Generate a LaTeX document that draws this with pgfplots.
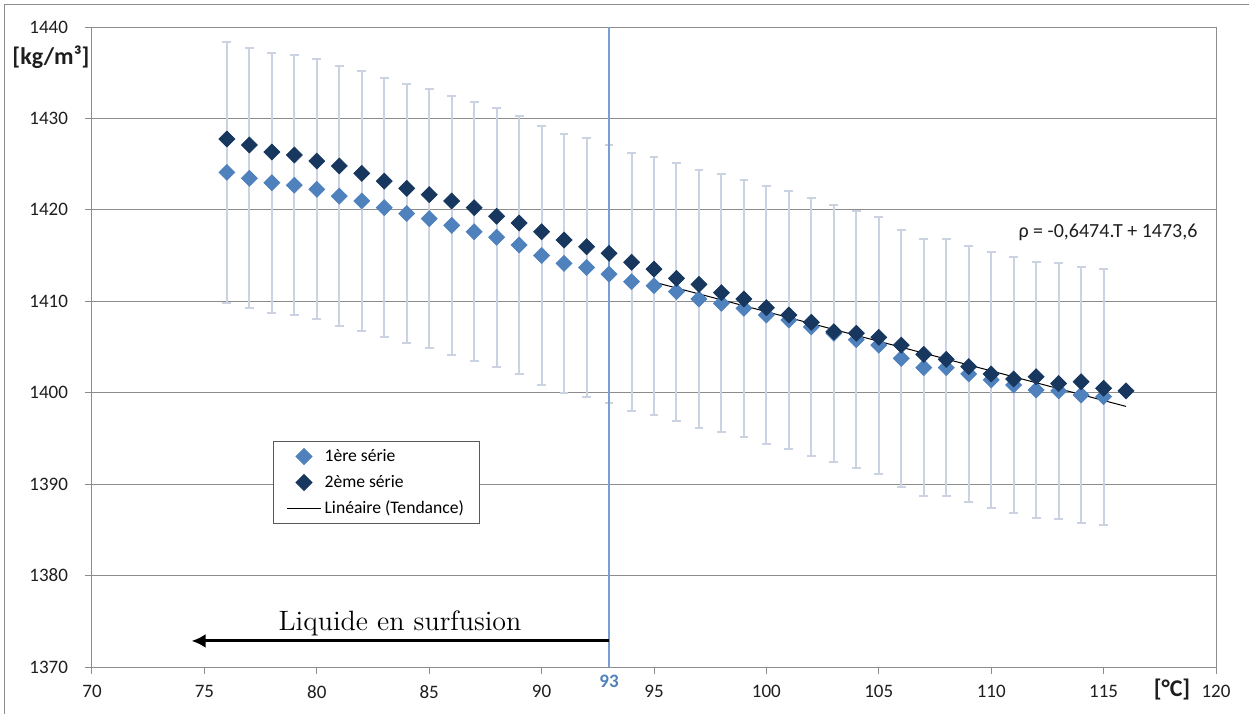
\documentclass[border=0pt]{standalone}
\usepackage{pgfplots}
\pgfplotsset{compat=1.18}
\usepackage{pgfplotstable}
\usepackage{fontspec}
\usetikzlibrary{arrows.meta}
\newfontfamily\calibri{Carlito}
\definecolor{gridgray}{RGB}{140,140,140}
\definecolor{legborder}{RGB}{89,89,89}
\definecolor{lightb}{RGB}{79,129,189}
\definecolor{darkb}{RGB}{23,55,94}
\definecolor{errc}{RGB}{203,210,226}
\definecolor{vline}{RGB}{120,158,210}
\definecolor{lab93}{RGB}{79,129,189}
\definecolor{ticktxt}{RGB}{30,30,30}

\pgfplotstableread{
x y e
76 1424.10 14.24
77 1423.45 14.23
78 1422.97 14.23
79 1422.70 14.23
80 1422.25 14.22
81 1421.50 14.22
82 1420.97 14.21
83 1420.24 14.20
84 1419.60 14.20
85 1419.04 14.19
86 1418.30 14.18
87 1417.60 14.18
88 1417.00 14.17
89 1416.16 14.16
90 1415.00 14.15
91 1414.15 14.14
92 1413.70 14.14
93 1412.97 14.13
94 1412.14 14.12
95 1411.70 14.12
96 1411.05 14.11
97 1410.25 14.10
98 1409.78 14.10
99 1409.23 14.09
100 1408.50 14.09
101 1407.95 14.08
102 1407.20 14.07
103 1406.50 14.07
104 1405.80 14.06
105 1405.20 14.05
106 1403.76 14.04
107 1402.74 14.03
108 1402.74 14.03
109 1402.05 14.02
110 1401.40 14.01
111 1400.85 14.01
112 1400.30 14.00
113 1400.20 14.00
114 1399.75 14.00
115 1399.57 14.00
}\serieA

\pgfplotstableread{
x y
76 1427.75
77 1427.10
78 1426.33
79 1426.00
80 1425.34
81 1424.80
82 1424.00
83 1423.15
84 1422.35
85 1421.66
86 1420.97
87 1420.24
88 1419.30
89 1418.56
90 1417.60
91 1416.70
92 1415.97
93 1415.25
94 1414.27
95 1413.53
96 1412.50
97 1411.85
98 1410.94
99 1410.25
100 1409.30
101 1408.50
102 1407.70
103 1406.67
104 1406.50
105 1406.06
106 1405.20
107 1404.20
108 1403.65
109 1402.85
110 1402.05
111 1401.50
112 1401.75
113 1401.00
114 1401.20
115 1400.48
116 1400.20
}\serieB

\begin{document}
\begin{tikzpicture}
\useasboundingbox (-46pt,-23pt) rectangle (578.5pt,333.5pt);
\draw[gridgray, line width=0.5pt] (-43.5pt,-40pt) -- (-43.5pt,331pt) -- (600pt,331pt);
\begin{axis}[
  at={(0pt,0pt)}, anchor=south west,
  scale only axis, width=562pt, height=320pt,
  xmin=70, xmax=120, ymin=1370, ymax=1440,
  xtick={70,75,...,120}, ytick={1370,1380,...,1440},
  xtick pos=bottom, ytick pos=left,
  axis line style={gridgray, line width=0.5pt},
  ymajorgrids, major grid style={gridgray, line width=0.5pt},
  tick align=outside, major tick length=3.5pt,
  tick style={gridgray, line width=0.5pt},
  /pgf/number format/assume math mode=true,
  /pgf/number format/1000 sep={},
  tick label style={font=\calibri\fontsize{9.5}{11}\selectfont, text=ticktxt},
  x tick label style={yshift=-2pt},
  y tick label style={xshift=-5pt},
  extra x ticks={93},
  extra x tick labels={\textbf{93}},
  extra x tick style={major tick length=0pt, grid=none,
     tick label style={text=lab93, yshift=1.5pt}},
  legend style={at={(0.161,0.353)}, anchor=north west,
     draw=legborder, line width=0.5pt, fill=white,
     font=\calibri\fontsize{8.8}{10}\selectfont,
     inner xsep=6.5pt, inner ysep=1.5pt, row sep=1pt,
     nodes={inner sep=1.5pt, text height=7pt, text depth=2pt}},
  legend cell align=left,
]
\addplot[only marks, mark=square*, mark size=2.8pt,
  mark options={rotate=45, fill=lightb, draw=lightb},
  error bars/.cd, y dir=both, y explicit,
  error bar style={errc, line width=1pt},
  error mark=|,
  error mark options={errc, line width=1pt, mark size=2.2pt}]
  table[x=x, y=y, y error=e] {\serieA};
\addlegendentry{1ère série}
\addplot[only marks, mark=square*, mark size=2.8pt,
  mark options={rotate=45, fill=darkb, draw=darkb}]
  table[x=x, y=y] {\serieB};
\addlegendentry{2ème série}
\addplot[black, line width=0.5pt, no marks] coordinates {(95,1412.10) (116,1398.50)};
\addlegendentry{Linéaire (Tendance)}
\addplot[vline, line width=0.7pt, no marks, forget plot] coordinates {(93,1370) (93,1440)};
\addplot[black, line width=1.5pt, no marks, forget plot, -{Latex[length=7pt,width=7pt]}]
  coordinates {(93,1372.85) (74.43,1372.85)};
\end{axis}
\node[font=\calibri\bfseries\fontsize{12}{14}\selectfont, text=ticktxt] at (-20.5pt,305pt) {[kg/m³]};
\node[font=\calibri\bfseries\fontsize{12}{14}\selectfont, text=ticktxt] at (540pt,-11.5pt) {[°C]};
\node[font=\calibri\fontsize{10}{12}\selectfont, text=ticktxt] at (508pt,217.5pt) {ρ = -0,6474.T + 1473,6};
\node[font=\fontsize{14}{16}\selectfont, anchor=base] at (154pt,18.5pt) {Liquide en surfusion};
\end{tikzpicture}
\end{document}
